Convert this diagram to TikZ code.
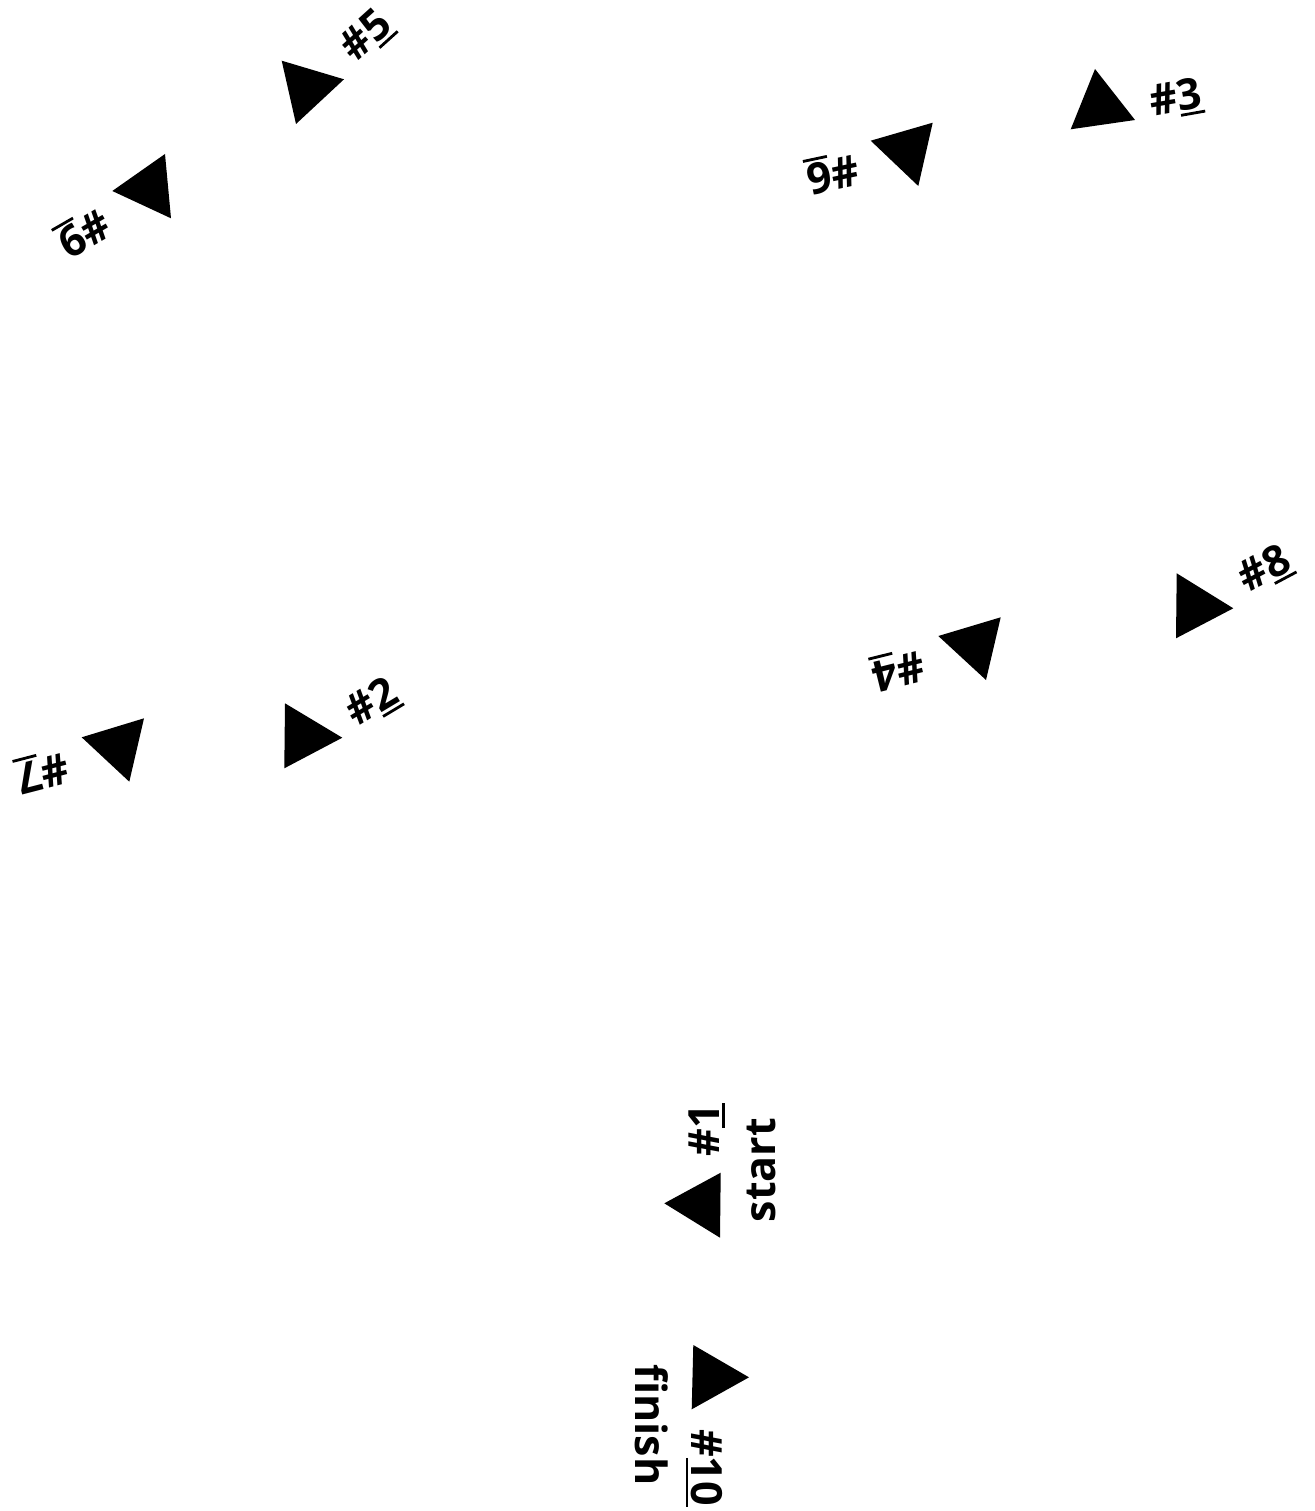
\documentclass[tikz,border=0pt]{standalone}
\usepackage{fontspec}
\setmainfont{Open Sans}[RawFeature=-liga]
\newcommand\ulnum[1]{\setbox0\hbox{#1}\rlap{\kern0.02\wd0\rule[-0.13em]{\wd0}{0.065em}}\box0}
\begin{document}
\begin{tikzpicture}[x=1pt,y=-1pt,
  lbl/.style={inner sep=0pt,font=\fontsize{43}{50}\selectfont\bfseries},
  tri/.style={fill=black}]
\useasboundingbox (0,0) rectangle (1314,1511);
% triangles
\fill[tri] (281.7,60.7) -- (344,79.3) -- (296,124) -- cycle;
\fill[tri] (165,154) -- (112.3,191) -- (171,218.3) -- cycle;
\fill[tri] (870.7,140.7) -- (932.7,122.7) -- (918.3,186) -- cycle;
\fill[tri] (1095,69) -- (1135,120) -- (1070.7,129.3) -- cycle;
\fill[tri] (81.7,737.3) -- (144,718.3) -- (129.3,781.7) -- cycle;
\fill[tri] (285,703.3) -- (342.3,737.7) -- (284.3,768.3) -- cycle;
\fill[tri] (938.3,636) -- (1000.7,617.3) -- (986,680) -- cycle;
\fill[tri] (1176.7,573.3) -- (1233.3,608.3) -- (1176,638.3) -- cycle;
\fill[tri] (720.7,1172.7) -- (664.3,1203.3) -- (720,1237.7) -- cycle;
\fill[tri] (693.3,1345) -- (749,1377.3) -- (691.7,1409.3) -- cycle;
% labels
\node[lbl,rotate=42] (l5) at (366.7,36.7) {\#\ulnum{5}};
\node[lbl,rotate=210] (l9) at (83.3,231.7) {\#\ulnum{9}};
\node[lbl,rotate=192] (l6) at (832.5,172.5) {\#\ulnum{6}};
\node[lbl,rotate=10] (l3) at (1176,99) {\#\ulnum{3}};
\node[lbl,rotate=194.5] (l7) at (42.5,771) {\#\ulnum{7}};
\node[lbl,rotate=31] (l2) at (372.5,703) {\#\ulnum{2}};
\node[lbl,rotate=194] (l4) at (898.3,669) {\#\ulnum{4}};
\node[lbl,rotate=28] (l8) at (1265,569.5) {\#\ulnum{8}};
\node[lbl,rotate=90] (l1) at (706.5,1130) {\#\ulnum{1}};
\node[lbl,rotate=90] (start) at (761.5,1170) {start};
\node[lbl,rotate=-90] (l10) at (704,1467.5) {\#\ulnum{10}};
\node[lbl,rotate=-90] (finish) at (651.7,1425) {finish};
\end{tikzpicture}
\end{document}
